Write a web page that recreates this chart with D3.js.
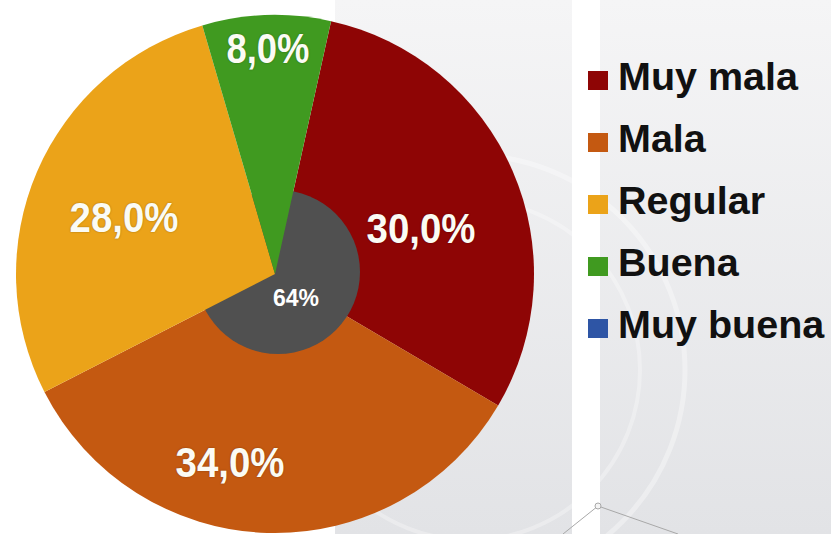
<!DOCTYPE html>
<html><head><meta charset="utf-8">
<script src="https://cdn.jsdelivr.net/npm/d3@7"></script>
<style>html,body{margin:0;padding:0;background:#fff;}svg{display:block;}</style>
</head><body>
<script>
const categories = ["Muy mala", "Mala", "Regular", "Buena", "Muy buena"];
const values = [30.0, 34.0, 28.0, 8.0, 0.0];
const labels = ["30,0%", "34,0%", "28,0%", "8,0%", ""];
const colors = ["#8e0505", "#c45911", "#eba319", "#409a20", "#2e55a5"];
const centerLabel = "64%";

const W = 831, H = 534;
const svg = d3.select("body").append("svg").attr("width", W).attr("height", H);

// background panels
const defs = svg.append("defs");
const g1 = defs.append("linearGradient").attr("id", "bg").attr("x1", 0).attr("y1", 0).attr("x2", 0).attr("y2", 1);
g1.append("stop").attr("offset", "0%").attr("stop-color", "#f5f5f6");
g1.append("stop").attr("offset", "100%").attr("stop-color", "#e2e3e6");
svg.append("rect").attr("x", 335).attr("y", 0).attr("width", 237).attr("height", H).attr("fill", "url(#bg)");
svg.append("rect").attr("x", 600).attr("y", 0).attr("width", 231).attr("height", H).attr("fill", "url(#bg)");
// faint watermark rings
svg.append("circle").attr("cx", 470).attr("cy", 370).attr("r", 215).attr("fill", "none").attr("stroke", "#ffffff").attr("stroke-opacity", 0.35).attr("stroke-width", 5);
svg.append("circle").attr("cx", 470).attr("cy", 370).attr("r", 170).attr("fill", "none").attr("stroke", "#ffffff").attr("stroke-opacity", 0.3).attr("stroke-width", 4);
// decoration connector
svg.append("line").attr("x1", 598).attr("y1", 506).attr("x2", 563).attr("y2", 534).attr("stroke", "#a8a8a8").attr("stroke-width", 1);
svg.append("line").attr("x1", 598).attr("y1", 506).attr("x2", 678).attr("y2", 534).attr("stroke", "#a8a8a8").attr("stroke-width", 1);
svg.append("circle").attr("cx", 598).attr("cy", 506).attr("r", 3).attr("fill", "#f4f4f4").attr("stroke", "#a8a8a8");

const cx = 275, cy = 274, R = 259;
const start = 12.5 * Math.PI / 180;
const pie = d3.pie().sort(null).value(d => d).startAngle(start).endAngle(start + 2 * Math.PI);
const arcs = pie(values);
const arc = d3.arc().innerRadius(0).outerRadius(R);
const g = svg.append("g").attr("transform", `translate(${cx},${cy})`);

const drawSlice = i => g.append("path").attr("d", arc(arcs[i])).attr("fill", colors[i]);
// red & orange, then dark centre circle, then yellow & green on top
drawSlice(0); drawSlice(1);
g.append("circle").attr("cx", 3).attr("cy", -2).attr("r", 82).attr("fill", "#505050");
drawSlice(2); drawSlice(3);

const labelPos = [[146, -31], [-45, 203], [-151, -42], [-7, -211]];
const lab = svg.append("g");
labelPos.forEach((p, i) => {
  lab.append("text")
    .attr("x", cx + p[0]).attr("y", cy + p[1])
    .attr("text-anchor", "middle")
    .attr("font-family", "Liberation Sans, Arial, sans-serif")
    .attr("font-weight", "bold").attr("font-size", 43)
    .attr("textLength", labels[i].length === 4 ? 83 : 109).attr("lengthAdjust", "spacingAndGlyphs")
    .attr("fill", "#fbfbf4")
    .style("text-shadow", "0 0 2px rgba(0,0,0,0.35)")
    .text(labels[i]);
});
svg.append("text").attr("x", 296).attr("y", 306).attr("text-anchor", "middle")
  .attr("font-family", "Liberation Sans, Arial, sans-serif").attr("font-weight", "bold")
  .attr("font-size", 23).attr("fill", "#ffffff").text(centerLabel);

// legend
const leg = svg.append("g");
categories.forEach((c, i) => {
  const by = 90 + i * 62;
  leg.append("rect").attr("x", 588).attr("y", by - 19).attr("width", 20).attr("height", 19).attr("fill", colors[i]);
  leg.append("text").attr("x", 618).attr("y", by)
    .attr("font-family", "Liberation Sans, Arial, sans-serif").attr("font-weight", "bold")
    .attr("font-size", 39.5).attr("fill", "#111").text(c);
});
</script>
</body></html>
